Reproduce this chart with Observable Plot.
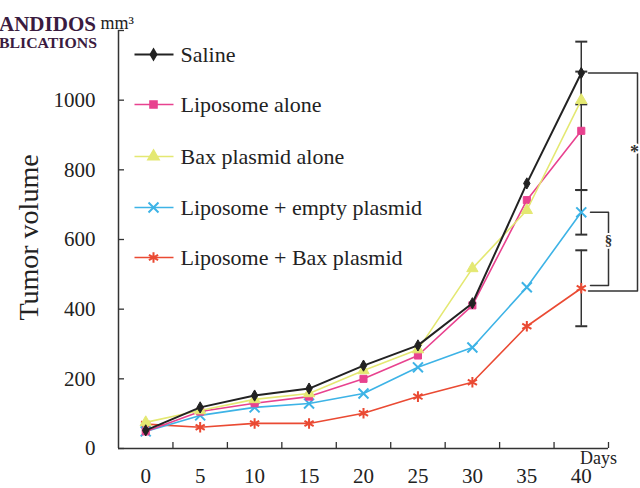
<!DOCTYPE html>
<html>
<head>
<meta charset="utf-8">
<script src="https://cdn.jsdelivr.net/npm/d3@7"></script>
<script src="https://cdn.jsdelivr.net/npm/@observablehq/plot@0.6"></script>
<style>
  html, body { margin: 0; padding: 0; background: #ffffff; }
  #chart { width: 640px; height: 488px; }
</style>
</head>
<body>
<div id="chart"></div>
<script>
// ---- data ----
const days = [0, 5, 10, 15, 20, 25, 30, 35, 40];
const seriesNames = ["Saline", "Liposome alone", "Bax plasmid alone", "Liposome + empty plasmid", "Liposome + Bax plasmid"];
const saline         = [52, 118, 152, 172, 238, 296, 417, 761, 1078];
const liposomeAlone  = [49, 106, 130, 149, 200, 267, 411, 713, 912];
const baxPlasmid     = [75, 109, 141, 158, 224, 284, 517, 684, 1000];
const liposomeEmpty  = [49, 95, 118, 129, 158, 233, 290, 463, 678];
const liposomeBax    = [70, 61, 72, 72, 101, 149, 190, 351, 460];
const errorDay40     = [90, 170, null, 64, 109];
const yTicks = [0, 200, 400, 600, 800, 1000, 1200];
const yLabels = [0, 200, 400, 600, 800, 1000];
const xLabels = [0, 5, 10, 15, 20, 25, 30, 35, 40];
const xTickMarks = [2.5, 7.5, 12.5, 17.5, 22.5, 27.5, 32.5, 37.5, 42.5];

const seriesValues = [saline, liposomeAlone, baxPlasmid, liposomeEmpty, liposomeBax];
const colors = ["#222222", "#e8428f", "#e4e872", "#3db3e6", "#ea4a33"];
const symbols = ["diamond", "square", "triangle", "times", "asterisk"];
const filled = [true, true, true, false, false];
const symR = [3.4, 4, 4.2, 4.6, 5];

// ---- layout helpers (pixel -> data space for annotations/legend) ----
const ML = 118, MR = 32, MT = 30, MB = 40, W = 640, H = 488;
const xs = d3.scaleLinear([ML, W - MR], [-2.5, 42.5]);
const ys = d3.scaleLinear([H - MB, MT], [0, 1200]);

const rows = [];
seriesNames.forEach((s, i) => days.forEach((d, j) => rows.push({series: s, idx: i, day: d, value: seriesValues[i][j]})));

const drawOrder = [4, 3, 1, 2, 0];
const marks = [];

// axes
marks.push(Plot.ruleX([-2.5], {stroke: "#333", strokeWidth: 1.5}));
marks.push(Plot.ruleY([0], {stroke: "#333", strokeWidth: 1.5}));
marks.push(Plot.axisY({ticks: yTicks, tickSize: -6, tickFormat: () => "", stroke: "#333", strokeWidth: 1.3}));
marks.push(Plot.axisY({ticks: yLabels, tickSize: 0, tickPadding: 23, tickFormat: d => String(d), fontSize: 21, fill: "#222"}));
marks.push(Plot.axisX({ticks: xTickMarks, tickSize: -6, tickFormat: () => "", stroke: "#333", strokeWidth: 1.3}));
marks.push(Plot.axisX({ticks: xLabels, tickSize: 0, tickPadding: 20, tickFormat: d => String(d), fontSize: 21, fill: "#222"}));

// error bars at day 40
const errs = seriesNames.map((s, i) => ({series: s, day: 40, value: seriesValues[i][8], err: errorDay40[i]})).filter(d => d.err != null);
marks.push(Plot.ruleX(errs, {x: "day", y1: d => d.value - d.err, y2: d => d.value + d.err, stroke: "#333", strokeWidth: 1.5}));
marks.push(Plot.link(errs, {x1: d => d.day - 0.55, x2: d => d.day + 0.55, y1: d => d.value + d.err, y2: d => d.value + d.err, stroke: "#333", strokeWidth: 2}));
marks.push(Plot.link(errs, {x1: d => d.day - 0.55, x2: d => d.day + 0.55, y1: d => d.value - d.err, y2: d => d.value - d.err, stroke: "#333", strokeWidth: 2}));

// series
for (const i of drawOrder) {
  const data = rows.filter(r => r.idx === i);
  marks.push(Plot.line(data, {x: "day", y: "value", stroke: colors[i], strokeWidth: i === 0 ? 2 : 1.6}));
  marks.push(Plot.dot(data, filled[i]
    ? {x: "day", y: "value", symbol: () => symbols[i], r: symR[i], fill: colors[i], stroke: colors[i], strokeWidth: 1}
    : {x: "day", y: "value", symbol: () => symbols[i], r: symR[i], stroke: colors[i], strokeWidth: 2}));
}

// significance brackets
const s40 = saline[8], e40 = liposomeEmpty[8], b40 = liposomeBax[8];
marks.push(Plot.line([{x: xs(588), y: s40}, {x: xs(637), y: s40}, {x: xs(637), y: b40 - 8}, {x: xs(588), y: b40 - 8}],
  {x: "x", y: "y", stroke: "#333", strokeWidth: 1.5}));
marks.push(Plot.line([{x: xs(590), y: e40}, {x: xs(608), y: e40}, {x: xs(608), y: b40 + 8}, {x: xs(590), y: b40 + 8}],
  {x: "x", y: "y", stroke: "#333", strokeWidth: 1.5}));
marks.push(Plot.text(["*"], {x: xs(634), y: ys(152), fontSize: 18, fill: "#333", stroke: "white", strokeWidth: 4, fontWeight: "bold"}));
marks.push(Plot.text(["§"], {x: xs(608), y: ys(240), fontSize: 15, fill: "#333", stroke: "white", strokeWidth: 4, fontWeight: "bold"}));

// legend (inside plot)
const legendY = [54, 104, 156, 207, 257];
const legend = seriesNames.map((s, i) => ({series: s, i, y: ys(legendY[i])}));
legend.forEach((d) => {
  const i = d.i;
  marks.push(Plot.link([d], {x1: xs(134), x2: xs(173), y1: "y", y2: "y", stroke: colors[i], strokeWidth: i === 0 ? 2 : 1.6}));
  marks.push(Plot.dot([d], filled[i]
    ? {x: xs(153), y: "y", symbol: () => symbols[i], r: symR[i], fill: colors[i], stroke: colors[i]}
    : {x: xs(153), y: "y", symbol: () => symbols[i], r: symR[i], stroke: colors[i], strokeWidth: 2}));
  marks.push(Plot.text([d], {x: xs(180), y: "y", text: "series", textAnchor: "start", fontSize: 22, fill: "#222"}));
});

// axis titles
marks.push(Plot.text(["Tumor volume"], {frameAnchor: "left", textAnchor: "middle", rotate: -90, dx: -89, dy: -2, fontSize: 28, fill: "#222"}));
marks.push(Plot.text(["mm³"], {frameAnchor: "top-left", textAnchor: "start", lineAnchor: "bottom", dx: -18, dy: -2, fontSize: 18, fill: "#222"}));
marks.push(Plot.text(["Days"], {frameAnchor: "bottom-right", textAnchor: "middle", lineAnchor: "top", dx: -10, dy: 3, fontSize: 18, fill: "#222"}));

const chart = Plot.plot({
  width: W, height: H,
  marginLeft: ML, marginRight: MR, marginTop: MT, marginBottom: MB,
  x: {domain: [-2.5, 42.5], axis: null},
  y: {domain: [0, 1200], axis: null},
  style: {fontFamily: "'Liberation Serif', 'Times New Roman', serif", background: "#ffffff", color: "#222", overflow: "visible"},
  marks
});

// publisher watermark (cropped logo text in the corner)
const svg = d3.select(chart);
svg.append("text").attr("x", -1).attr("y", 31).attr("text-anchor", "start").attr("textLength", 97).attr("lengthAdjust", "spacingAndGlyphs")
  .attr("font-family", "'Liberation Serif', serif").attr("font-size", 20).attr("font-weight", "bold").attr("fill", "#3a1b40").text("ANDIDOS");
svg.append("text").attr("x", -1).attr("y", 48).attr("text-anchor", "start").attr("textLength", 98).attr("lengthAdjust", "spacingAndGlyphs")
  .attr("font-family", "'Liberation Serif', serif").attr("font-size", 14).attr("font-weight", "bold").attr("fill", "#3a1b40").text("BLICATIONS");

document.getElementById("chart").appendChild(chart);
</script>
</body>
</html>
